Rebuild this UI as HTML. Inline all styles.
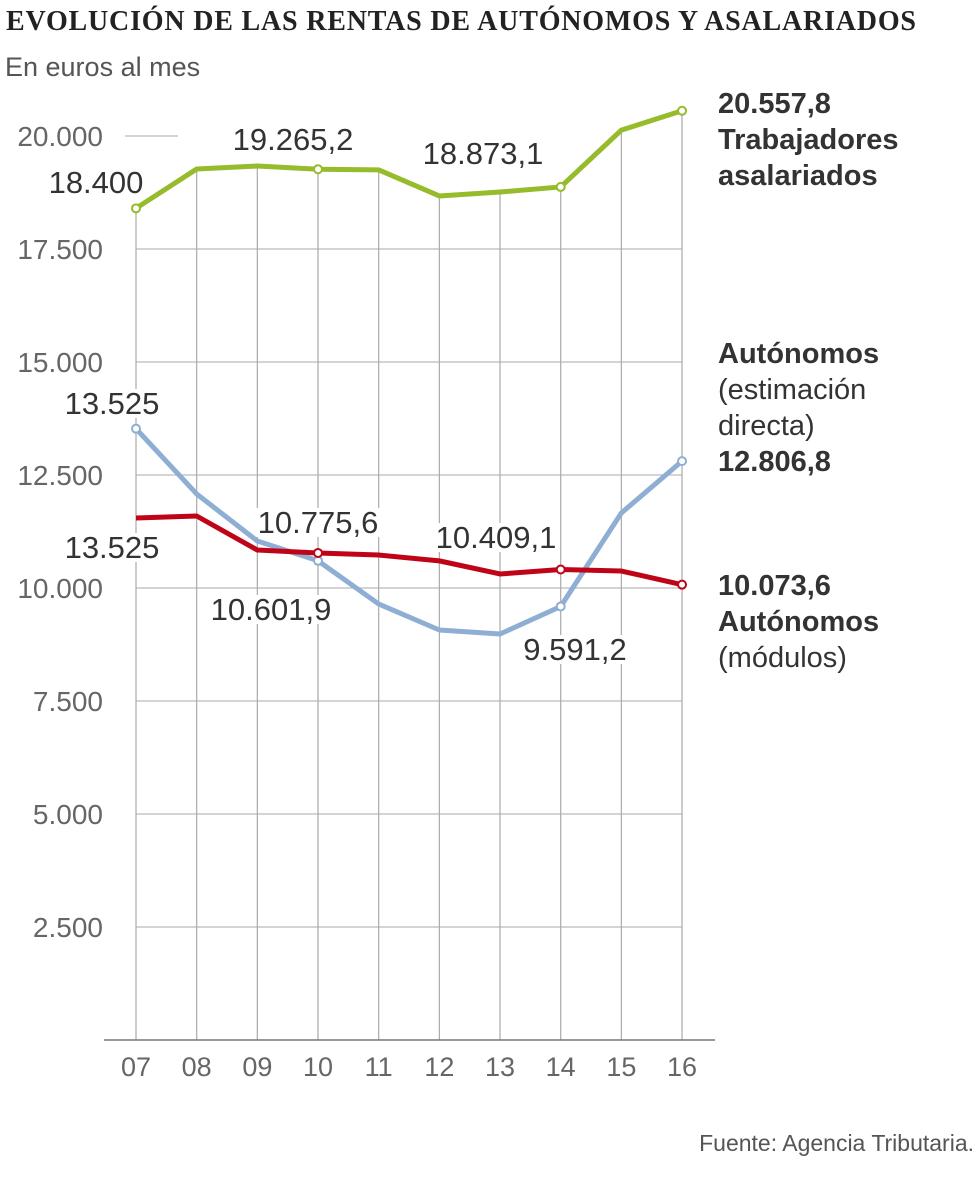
<!DOCTYPE html>
<html><head><meta charset="utf-8"><style>
body{margin:0;background:#fff;width:980px;height:1199px;overflow:hidden;font-family:"Liberation Sans",sans-serif}
</style></head><body>
<svg width="980" height="1199" style="font-family:'Liberation Sans',sans-serif">
<text x="6" y="30" style="font-family:'Liberation Serif',serif" font-weight="bold" font-size="28" fill="#222" textLength="910">EVOLUCIÓN DE LAS RENTAS DE AUTÓNOMOS Y ASALARIADOS</text>
<text x="5" y="76" font-size="27" fill="#555">En euros al mes</text>
<g id="grid"></g><g id="series"></g><g id="labels"></g>
<text x="974" y="1151" text-anchor="end" font-size="23" fill="#555">Fuente: Agencia Tributaria.</text>
</svg>
<script>
const years=["07","08","09","10","11","12","13","14","15","16"];
const yTicks=[2500,5000,7500,10000,12500,15000,17500,20000];
const asalariados=[18400,19270,19336,19265.2,19250,18673,18760,18873.1,20130,20557.8];
const estimacion=[13525,12080,11040,10601.9,9646,9071,8982,9591.2,11660,12806.8];
const modulos=[11549,11593,10840,10775.6,10730,10600,10310,10409.1,10376,10073.6];
const NS="http://www.w3.org/2000/svg";
const x=i=>136+i*60.67, y=v=>1040-v*(113/2500);
function mk(t,a,p,txt){const e=document.createElementNS(NS,t);for(const k in a)e.setAttribute(k,a[k]);if(txt!==undefined)e.textContent=txt;document.getElementById(p).appendChild(e);return e;}
yTicks.forEach(v=>{
 const short=v===20000;
 const l=mk('line',{x1:short?125:136,x2:short?178:682,y1:y(v),y2:y(v),stroke:'#bbb','stroke-width':1.3},'grid');
 
 
 const t=mk('text',{x:103,y:y(v)+10,'text-anchor':'end','font-size':28,fill:'#666'},'grid',v.toLocaleString('de-DE'));
 
 
});
years.forEach((yr,i)=>{
 const l=mk('line',{x1:x(i),x2:x(i),y1:y(asalariados[i]),y2:1040,stroke:'#aaa','stroke-width':1.2},'grid');
 
 
 const t=mk('text',{x:x(i),y:1076,'text-anchor':'middle','font-size':27,fill:'#666'},'grid',yr);
 
 
});
const b=mk('line',{x1:104,x2:715,y1:1040,y2:1040,stroke:'#777','stroke-width':1.5},'grid');


function series(d,color,name,dots){
 const p=mk('polyline',{points:d.map((v,i)=>x(i)+','+y(v)).join(' '),fill:'none',stroke:color,'stroke-width':5,'stroke-linejoin':'round'},'series');
 
 
 dots.forEach(i=>{const c=mk('circle',{cx:x(i),cy:y(d[i]),r:4,fill:'#fff',stroke:color,'stroke-width':2},'series');
  
  });
}
series(estimacion,'#8eaed4','estimacion',[0,3,7,9]);
series(modulos,'#c00418','modulos',[3,7,9]);
series(asalariados,'#96bb2b','asalariados',[0,3,7,9]);
function lab(tx,ly,s,anchor){const bg=mk('rect',{x:0,y:0,width:0,height:0,fill:'#fff'},'labels');
 const t=mk('text',{x:tx,y:ly,'text-anchor':anchor||'middle','font-size':31,fill:'#333'},'labels',s);
 
 
 const bb=t.getBBox();bg.setAttribute('x',bb.x-2);bg.setAttribute('y',bb.y+3);bg.setAttribute('width',bb.width+4);bg.setAttribute('height',bb.height-6);}
const fmt=v=>v.toLocaleString('de-DE',{maximumFractionDigits:1});
lab(96,193,fmt(asalariados[0]));
lab(293,150,fmt(asalariados[3]));
lab(483,164,fmt(asalariados[7]));
lab(112,414,fmt(estimacion[0]));
lab(112,558,fmt(estimacion[0]));
lab(271,620,fmt(estimacion[3]));
lab(318,533,fmt(modulos[3]));
lab(496,548,fmt(modulos[7]));
lab(575,660,fmt(estimacion[7]));
</script>
<div style="position:absolute;left:718px;top:86px;font-size:29px;line-height:36px;color:#333"><b>20.557,8<br>Trabajadores<br>asalariados</b></div>
<div style="position:absolute;left:718px;top:336px;font-size:29px;line-height:36px;color:#333"><b>Autónomos</b><br>(estimación<br>directa)<br><b>12.806,8</b></div>
<div style="position:absolute;left:718px;top:568px;font-size:29px;line-height:36px;color:#333"><b>10.073,6<br>Autónomos</b><br>(módulos)</div>
</body></html>
